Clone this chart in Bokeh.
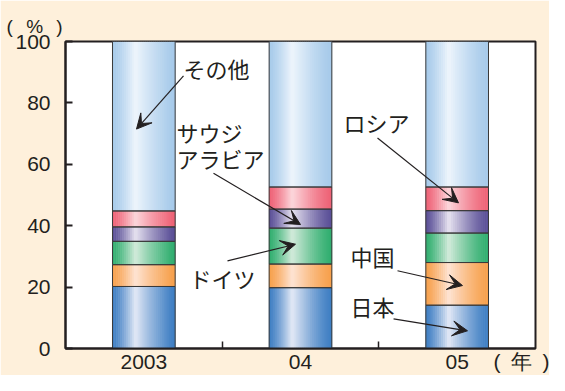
import numpy as np
from bokeh.plotting import figure
from bokeh.models import Range1d, FixedTicker, Label, Arrow, VeeHead
from bokeh.embed import file_html
from bokeh.resources import INLINE

# ---- data ----
years = ["2003", "04", "05"]
series_names = ["日本", "中国", "ドイツ", "サウジアラビア", "ロシア", "その他"]
japan = [20.2, 19.8, 14.1]
china = [7.1, 7.7, 13.9]
germany = [7.6, 11.7, 9.6]
saudi = [4.7, 6.2, 7.3]
russia = [5.2, 7.2, 7.7]
others = [55.2, 47.4, 47.4]
y_ticks = [0, 20, 40, 60, 80, 100]
y_unit = "(\u2002\u2009%\u2002\u2009)"
x_unit = "(\u2002年\u2002)"

# ---- styles ----
edge_colors = ["#3E7EC3", "#F7A04C", "#30AE6F", "#5A4F97", "#EE6276", "#A6CAEA"]
light_colors = ["#E3E9F6", "#FEE4D4", "#D3EBDB", "#E7E3F0", "#FCD7DC", "#EEF5FC"]
BG = "#FEF0DB"
INK = "#231F20"
JP = "Noto Sans CJK JP"
LAT = "Liberation Sans"


def hex2rgb(h):
    h = h.lstrip("#")
    return np.array([int(h[i:i + 2], 16) for i in (0, 2, 4)], dtype=float)


def mix(c1, c2, a):
    r = hex2rgb(c1) * (1 - a) + hex2rgb(c2) * a
    return "#%02x%02x%02x" % tuple(int(round(v)) for v in r)


p = figure(width=549, height=375, output_backend="svg", toolbar_location=None,
           x_range=Range1d(-0.5, 2.5), y_range=Range1d(0, 100),
           min_border_left=65, min_border_right=14, min_border_top=41,
           min_border_bottom=25)
p.background_fill_color = "white"
p.border_fill_color = BG
p.outline_line_color = INK
p.outline_line_width = 2
p.grid.visible = False

# unit label (%) as the title, above the y axis
p.title.text = y_unit
p.title.text_font = LAT
p.title.text_font_size = "19px"
p.title.text_font_style = "normal"
p.title.text_color = INK
p.title.align = "left"
p.title.offset = -59
p.title.standoff = 10

stack = np.array([japan, china, germany, saudi, russia, others])
tops = np.cumsum(stack, axis=0)
bottoms = tops - stack
idx = np.arange(len(years))

W = 0.40
N = 32
H = 0.37
xs, bs, ts, cs = [], [], [], []
for k in range(N):
    t = (k + 0.5) / N
    d = (H - t) / H if t < H else (t - H) / (1 - H)
    a = (1 - d) ** 1.3
    off = (t - 0.5) * W
    for s in range(len(series_names)):
        col = mix(edge_colors[s], light_colors[s], a)
        for i in idx:
            xs.append(i + off)
            bs.append(bottoms[s, i])
            ts.append(tops[s, i])
            cs.append(col)
p.vbar(x=xs, bottom=bs, top=ts, width=W / N * 1.3, fill_color=cs, line_color=None)

# segment outlines
ox, ob, ot = [], [], []
for s in range(len(series_names)):
    for i in idx:
        ox.append(i)
        ob.append(bottoms[s, i])
        ot.append(tops[s, i])
p.vbar(x=ox, bottom=ob, top=ot, width=W, fill_color=None, line_color="#3a3a3a",
       line_width=1)

# axes
p.yaxis.ticker = FixedTicker(ticks=y_ticks)
p.yaxis.major_tick_in = 7
p.yaxis.major_tick_out = 0
p.yaxis.major_tick_line_width = 2
p.yaxis.minor_tick_line_color = None
p.yaxis.major_label_standoff = 15

# the (年) unit sits on the x axis, at the right end of the axis
unit_pos = 2.417
labels = {int(i): y for i, y in zip(idx, years)}
labels[unit_pos] = x_unit
p.xaxis.ticker = FixedTicker(ticks=list(idx) + [unit_pos], minor_ticks=[0.5, 1.5])
p.xaxis.major_label_overrides = labels
p.xaxis.major_tick_in = 0
p.xaxis.major_tick_out = 0
p.xaxis.minor_tick_in = 7
p.xaxis.minor_tick_out = 0
p.xaxis.minor_tick_line_width = 1.5
p.xaxis.minor_tick_line_color = INK
p.xaxis.major_label_standoff = 1

for ax in (p.xaxis, p.yaxis):
    ax.axis_line_width = 2
    ax.axis_line_color = INK
    ax.major_tick_line_color = INK
    ax.major_label_text_font = LAT
    ax.major_label_text_font_size = "21px"
    ax.major_label_text_color = INK

# annotations
ann_text = [("その他", 0.253, 91.35), ("サウジ", 0.2085, 70.5), ("アラビア", 0.2085, 62.2),
            ("ドイツ", 0.2915, 23.1), ("ロシア", 1.2745, 73.7), ("中国", 1.319, 30.1),
            ("日本", 1.319, 13.8)]
for txt, x, y in ann_text:
    p.add_layout(Label(x=x, y=y, text=txt, text_font=JP, text_font_size="22px",
                       text_color=INK, text_align="left", text_baseline="middle"))

arrows = [(0.2532, 88.78, -0.0468, 71.47),
          (0.4447, 57.05, 1.0, 40.38),
          (0.534, 28.53, 0.968, 33.97),
          (1.4915, 68.59, 2.0085, 47.44),
          (1.619, 25.32, 2.034, 20.51),
          (1.594, 9.62, 2.066, 5.77)]
for x0, y0, x1, y1 in arrows:
    p.add_layout(Arrow(x_start=x0, y_start=y0, x_end=x1, y_end=y1,
                       line_color=INK, line_width=1.2,
                       end=VeeHead(size=15, fill_color=INK, line_color=INK,
                                   line_width=1)))

open("out.html", "w").write(file_html(p, INLINE))
